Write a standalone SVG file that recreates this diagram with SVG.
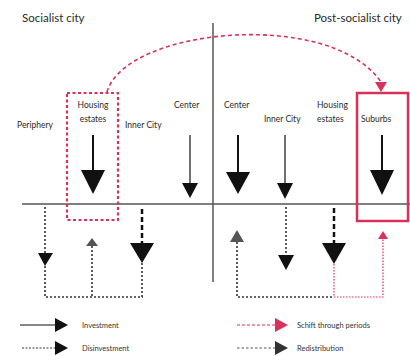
<svg xmlns="http://www.w3.org/2000/svg" width="410" height="356" viewBox="0 0 410 356">
<style>
text{font-family:"Lato","Liberation Sans",sans-serif;fill:#2a2a2a}
.t{font-size:11.5px}
.l{font-size:8.5px}
.g{font-size:7.5px;fill:#333}
.axis{stroke:#555;stroke-width:1.5;fill:none}
.inv{stroke:#111;stroke-width:2;fill:none}
.thin{stroke:#111;stroke-width:1.2;fill:none}
.dis{stroke:#333;stroke-width:1.6;stroke-dasharray:2 2;fill:none}
.dash{stroke:#111;stroke-width:2.5;stroke-dasharray:5 3;fill:none}
.red{stroke:#d9305c;stroke-width:1.6;stroke-dasharray:4 3;fill:none}
.redd{stroke:#d9305c;stroke-width:1.2;stroke-dasharray:1.5 1.5;fill:none}
.hd{fill:#111}
.hg{fill:#555}
.hr{fill:#d9305c}
</style>
<g id="titles">
<text class="t" x="22" y="22">Socialist city</text>
<text class="t" x="314" y="22">Post-socialist city</text>
</g>
<g id="axes">
<line class="axis" x1="213" y1="23" x2="213" y2="282"/>
<line class="axis" x1="22" y1="204" x2="410" y2="204"/>
</g>
<g id="soc-periphery"><text class="l" x="17" y="128">Periphery</text></g>
<g id="soc-housing">
<rect x="67" y="93" width="51" height="127" fill="none" stroke="#d9305c" stroke-width="2.2" stroke-dasharray="3 2.5"/>
<text class="l" x="93" y="108" text-anchor="middle">Housing</text>
<text class="l" x="93" y="122" text-anchor="middle">estates</text>
</g>
<g id="soc-inner"><text class="l" x="125" y="128">Inner City</text></g>
<g id="soc-center"><text class="l" x="174" y="108">Center</text></g>
<g id="post-center"><text class="l" x="224" y="108">Center</text></g>
<g id="post-inner"><text class="l" x="264" y="122">Inner City</text></g>
<g id="post-housing">
<text class="l" x="317" y="108">Housing</text>
<text class="l" x="317" y="122">estates</text>
</g>
<g id="post-suburbs">
<rect x="357" y="93" width="51" height="128" fill="none" stroke="#d9305c" stroke-width="2.5"/>
<text class="l" x="361" y="122">Suburbs</text>
</g>
<g id="connectors">
<path class="red" d="M107,92 C125,28 330,8 381,82"/>
<polygon class="hr" points="375,82 387,82 381,92"/>
<line class="inv" x1="93" y1="135" x2="93" y2="172"/>
<polygon class="hd" points="81,170 105,170 93,194"/>
<line class="thin" x1="190" y1="135" x2="190" y2="185"/>
<polygon class="hd" points="182,183 198,183 190,198"/>
<line class="inv" x1="238" y1="135" x2="238" y2="174"/>
<polygon class="hd" points="226,172 250,172 238,194"/>
<line class="thin" x1="285" y1="135" x2="285" y2="185"/>
<polygon class="hd" points="277,183 293,183 285,199"/>
<line class="inv" x1="382" y1="135" x2="382" y2="172"/>
<polygon class="hd" points="370,170 394,170 382,195"/>
<path class="dis" d="M45,207 V254"/>
<polygon class="hd" points="38,253 53,253 45,266"/>
<path class="dis" d="M45,266 V297 H143"/>
<path class="dis" d="M92,246 V297"/>
<polygon class="hg" points="86,246 98,246 92,238"/>
<line class="dash" x1="142" y1="209" x2="142" y2="244"/>
<polygon class="hd" points="130,243 154,243 142,263"/>
<path class="dis" d="M142,263 V297"/>
<polygon class="hg" points="230,242 244,242 237,230"/>
<path class="dis" d="M237,242 V297 H334"/>
<path class="dis" d="M286,207 V256"/>
<polygon class="hd" points="278,255 294,255 286,270"/>
<line class="dash" x1="334" y1="208" x2="334" y2="244"/>
<polygon class="hd" points="322,243 346,243 334,264"/>
<path class="redd" d="M334,264 V297 H383 V238"/>
<polygon class="hr" points="378,239 388,239 383,231"/>
</g>
<g id="legend">
<line x1="20" y1="325" x2="56" y2="325" stroke="#111" stroke-width="1.2"/>
<polygon class="hd" points="55,318 55,332 68,325"/>
<text class="g" x="82" y="328">Investment</text>
<line x1="22" y1="348" x2="56" y2="348" stroke="#333" stroke-width="1.2" stroke-dasharray="2 1.5"/>
<polygon class="hd" points="55,341 55,355 68,348"/>
<text class="g" x="82" y="351">Disinvestment</text>
<line x1="237" y1="325" x2="276" y2="325" stroke="#d9305c" stroke-width="1.2" stroke-dasharray="3 2"/>
<polygon class="hr" points="275,318 275,332 288,325"/>
<text class="g" x="297" y="328">Schift through periods</text>
<line x1="237" y1="348" x2="276" y2="348" stroke="#555" stroke-width="1.2" stroke-dasharray="2.5 2"/>
<polygon fill="#333" points="275,341 275,355 288,348"/>
<text class="g" x="297" y="351">Redistribution</text>
</g>
</svg>
